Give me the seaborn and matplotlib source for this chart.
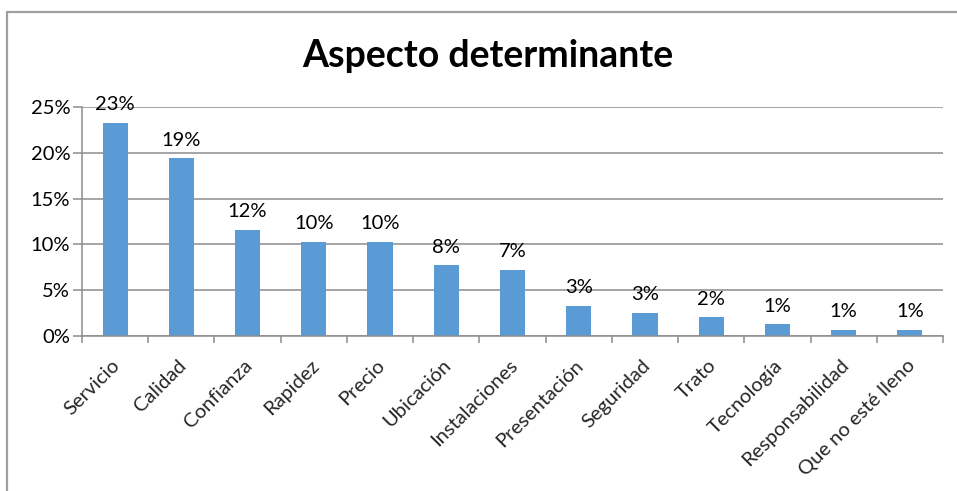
import matplotlib
matplotlib.use("Agg")
import matplotlib.pyplot as plt
import matplotlib.transforms as mtransforms
import seaborn as sns
import pandas as pd
from matplotlib.ticker import FixedLocator, FuncFormatter
from matplotlib.lines import Line2D

categories = ["Servicio", "Calidad", "Confianza", "Rapidez", "Precio", "Ubicación",
              "Instalaciones", "Presentación", "Seguridad", "Trato", "Tecnología",
              "Responsabilidad", "Que no esté lleno"]
values = [23.3, 19.4, 11.6, 10.3, 10.3, 7.7, 7.2, 3.25, 2.5, 2.0, 1.25, 0.66, 0.66]
labels = ["23%", "19%", "12%", "10%", "10%", "8%", "7%", "3%", "3%", "2%", "1%", "1%", "1%"]
yticks = [0, 5, 10, 15, 20, 25]
title = "Aspecto determinante"

sns.set_theme(style="white")
plt.rcParams['font.family'] = ['Lato', 'DejaVu Sans']

df = pd.DataFrame({"cat": categories, "val": values})

fig = plt.figure(figsize=(9.57, 4.91), dpi=100)
ax = fig.add_axes([0.0857, 0.3163, 0.8997, 0.4652])

sns.barplot(data=df, x="cat", y="val", ax=ax, color="#5B9BD5", width=0.38,
            saturation=1, edgecolor="none")

ax.set_xlim(-0.5, len(categories) - 0.5)
ax.set_ylim(0, 25)
ax.set_xlabel("")
ax.set_ylabel("")

fs = 14.5
grid_c = "#8C8C8C"
ax.set_yticks(yticks)
ax.yaxis.set_major_formatter(FuncFormatter(lambda v, p: f"{int(v)}%"))
ax.yaxis.grid(True, color=grid_c, linewidth=1.1)
ax.set_axisbelow(True)
ax.tick_params(axis="y", length=6.5, width=1.1, color=grid_c, labelsize=fs,
               pad=2, left=True, labelcolor="black")

ax.set_xticks(range(len(categories)))
ax.set_xticklabels(categories, rotation=45, ha="right", rotation_mode="anchor",
                   fontsize=fs)
ax.tick_params(axis="x", which="major", length=0, pad=15)
ax.xaxis.set_minor_locator(FixedLocator([i - 0.5 for i in range(len(categories) + 1)]))
ax.tick_params(axis="x", which="minor", length=5, width=1.1, color=grid_c,
               bottom=True, direction="out")
shift = mtransforms.ScaledTranslation(-4 / 100, 0, fig.dpi_scale_trans)
for t in ax.get_xticklabels():
    t.set_transform(t.get_transform() + shift)

for s in ["top", "right"]:
    ax.spines[s].set_visible(False)
for s in ["left", "bottom"]:
    ax.spines[s].set_color(grid_c)
    ax.spines[s].set_linewidth(1.1)

for i, (v, lab) in enumerate(zip(values, labels)):
    ax.annotate(lab, (i, v), xytext=(0, 7), textcoords="offset points",
                ha="center", va="bottom", fontsize=fs, color="black")

fig.text(0.51, 0.885, title, ha="center", va="center", fontsize=27,
         fontweight="bold", color="black")

bc = "#A0A0A0"
fig.add_artist(Line2D([7 / 957, 7 / 957], [0, 1 - 12 / 491], color=bc, linewidth=1.6,
                      transform=fig.transFigure))
fig.add_artist(Line2D([7 / 957, 1], [1 - 12 / 491, 1 - 12 / 491], color=bc, linewidth=1.6,
                      transform=fig.transFigure))

fig.savefig("out.png", dpi=100)
